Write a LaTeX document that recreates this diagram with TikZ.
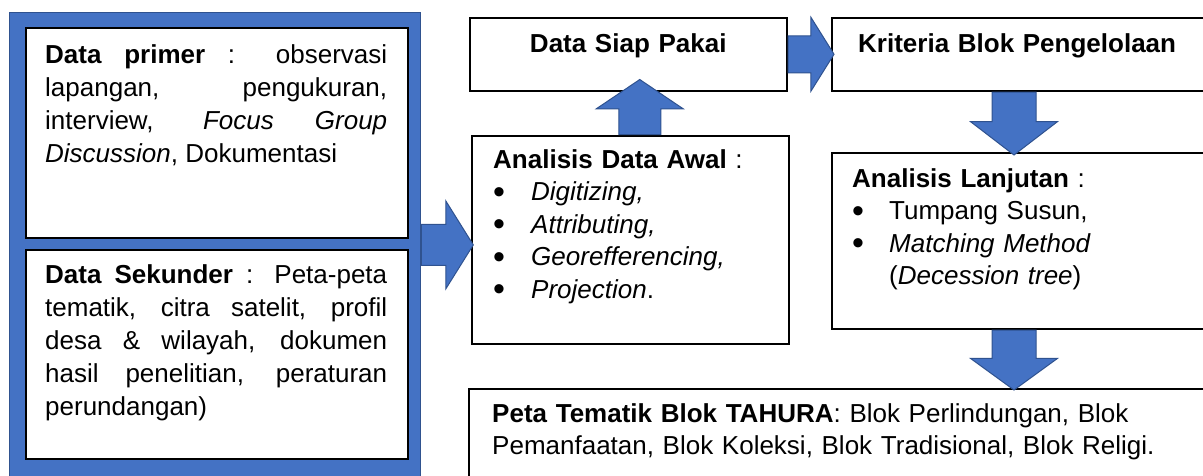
\documentclass[tikz,border=0pt]{standalone}
\usepackage{fontspec}
\setmainfont{Liberation Sans}
\usetikzlibrary{shapes.arrows}
\definecolor{arrowblue}{HTML}{4472C4}
\definecolor{arrowedge}{HTML}{2F528F}
\newcommand{\blt}{\makebox[0pt][l]{\raisebox{-2.5pt}{\fontsize{34}{0}\selectfont\textbullet}}}

\begin{document}
\begin{tikzpicture}[x=1pt,y=-1pt]
  \tikzset{box/.style={draw,line width=1.5pt,fill=white,anchor=north west,inner sep=0pt},
           txt/.style={anchor=base west,inner sep=0pt,align=left,text width=#1,font={\fontsize{26}{32.5}\selectfont}},
           justtxt/.style={anchor=base west,inner sep=0pt,align=justify,text width=342pt,font={\fontsize{26}{33}\selectfont\hyphenpenalty=10000\tolerance=10000\hbadness=10000}},
           blockarrow/.style={single arrow,draw=arrowedge,fill=arrowblue,line width=1pt,inner sep=0pt,minimum width=0pt,anchor=tail}}

  \path[use as bounding box,clip] (0,0) rectangle (1203,475);

  % left: data sources
  \node[anchor=north west,fill=arrowblue,draw=arrowedge,line width=0.8pt,minimum width=411pt,minimum height=465pt] (frame) at (9,12) {};
  \node[box,minimum width=382pt,minimum height=210pt] (prim) at (25,27) {};
  \node[box,minimum width=382pt,minimum height=209pt] (sek) at (25,249) {};
  \node[justtxt] at ([shift={(20,36)}]prim.north west)
    {\textbf{Data primer} : observasi\linebreak lapangan, pengukuran,\linebreak interview, \textit{Focus Group}\linebreak \textit{Discussion}, Dokumentasi};
  \node[justtxt] at ([shift={(20,34)}]sek.north west)
    {\textbf{Data Sekunder} : Peta-peta\linebreak tematik, citra satelit, profil\linebreak desa \& wilayah, dokumen\linebreak hasil penelitian, peraturan\linebreak perundangan)};

  % middle column
  \node[box,minimum width=317pt,minimum height=73pt] (siap) at (469,17) {};
  \node[box,minimum width=317pt,minimum height=208pt] (awal) at (471,135) {};
  \node[txt=300pt,anchor=base,align=center] at ([shift={(0,35)}]siap.north) {\textbf{Data Siap Pakai}};
  \node[txt=290pt] at ([shift={(22,33)}]awal.north west)
    {\textbf{Analisis Data Awal} :\\
     \makebox[38pt][l]{\blt}\textit{Digitizing,}\\
     \makebox[38pt][l]{\blt}\textit{Attributing,}\\
     \makebox[38pt][l]{\blt}\textit{Georefferencing,}\\
     \makebox[38pt][l]{\blt}\textit{Projection}.};

  % right column
  \node[box,minimum width=384pt,minimum height=73pt] (krit) at (831,17) {};
  \node[box,minimum width=384pt,minimum height=176pt] (lanj) at (831,152) {};
  \node[box,minimum width=747pt,minimum height=100pt] (peta) at (468,388) {};
  \node[txt=340pt] at ([shift={(27,35)}]krit.north west) {\textbf{Kriteria Blok Pengelolaan}};
  \node[txt=340pt] at ([shift={(21,35)}]lanj.north west)
    {\textbf{Analisis Lanjutan} :\\
     \makebox[37pt][l]{\blt}Tumpang Susun,\\
     \makebox[37pt][l]{\blt}\textit{Matching Method}\\
     \hspace*{37pt}(\textit{Decession tree})};
  \node[txt=700pt] at ([shift={(24,34)}]peta.north west)
    {\textbf{Peta Tematik Blok TAHURA}: Blok Perlindungan, Blok\\
     Pemanfaatan, Blok Koleksi, Blok Tradisional, Blok Religi.};

  % block arrows
  \node[blockarrow,inner ysep=20pt,single arrow head extend=23.5pt,single arrow tip angle=116,minimum height=52pt] (a1) at (frame.east) {};
  \node[blockarrow,shape border rotate=90,inner xsep=20.5pt,single arrow head extend=22.5pt,single arrow tip angle=112,minimum height=55pt] (a2) at ([shift={(9.5,0)}]awal.north) {};
  \node[blockarrow,inner ysep=18pt,single arrow head extend=18.5pt,single arrow tip angle=116,minimum height=46pt] (a3) at (siap.east) {};
  \node[blockarrow,shape border rotate=270,inner xsep=21.5pt,single arrow head extend=21.5pt,single arrow tip angle=105,minimum height=63pt] (a4) at ([shift={(183,0)}]krit.south west) {};
  \node[blockarrow,shape border rotate=270,inner xsep=21.5pt,single arrow head extend=21.5pt,single arrow tip angle=108,minimum height=60pt] (a5) at ([shift={(183,0)}]lanj.south west) {};
\end{tikzpicture}
\end{document}
